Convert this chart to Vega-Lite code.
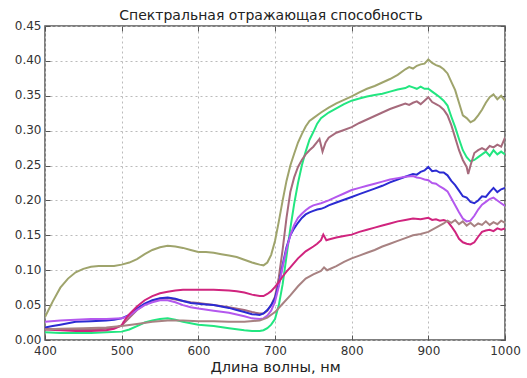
{
  "$schema": "https://vega.github.io/schema/vega-lite/v6.json",
  "width": 460,
  "height": 314,
  "autosize": {"type": "none"},
  "padding": {"left": 45, "top": 26, "right": 22, "bottom": 38},
  "title": {"text": "Спектральная отражающая способность", "font": "DejaVu Sans", "fontSize": 14, "fontWeight": "normal", "color": "#222", "offset": -4, "dx": -4},
  "data": {"values": [
    {"s":"1","x":400,"y":0.033},{"s":"1","x":410,"y":0.055},{"s":"1","x":420,"y":0.075},{"s":"1","x":430,"y":0.088},{"s":"1","x":440,"y":0.097},{"s":"1","x":450,"y":0.102},{"s":"1","x":460,"y":0.105},{"s":"1","x":470,"y":0.106},{"s":"1","x":480,"y":0.106},{"s":"1","x":490,"y":0.106},{"s":"1","x":500,"y":0.108},{"s":"1","x":510,"y":0.111},{"s":"1","x":520,"y":0.116},{"s":"1","x":530,"y":0.123},{"s":"1","x":540,"y":0.129},{"s":"1","x":550,"y":0.133},{"s":"1","x":560,"y":0.135},{"s":"1","x":570,"y":0.134},{"s":"1","x":580,"y":0.132},{"s":"1","x":590,"y":0.129},{"s":"1","x":600,"y":0.126},{"s":"1","x":610,"y":0.126},{"s":"1","x":620,"y":0.125},{"s":"1","x":630,"y":0.123},{"s":"1","x":640,"y":0.121},{"s":"1","x":650,"y":0.119},{"s":"1","x":660,"y":0.115},{"s":"1","x":670,"y":0.111},{"s":"1","x":680,"y":0.108},{"s":"1","x":685,"y":0.107},{"s":"1","x":690,"y":0.111},{"s":"1","x":695,"y":0.122},{"s":"1","x":700,"y":0.142},{"s":"1","x":705,"y":0.17},{"s":"1","x":710,"y":0.2},{"s":"1","x":715,"y":0.228},{"s":"1","x":720,"y":0.25},{"s":"1","x":725,"y":0.267},{"s":"1","x":730,"y":0.283},{"s":"1","x":735,"y":0.295},{"s":"1","x":740,"y":0.306},{"s":"1","x":745,"y":0.314},{"s":"1","x":750,"y":0.318},{"s":"1","x":760,"y":0.326},{"s":"1","x":770,"y":0.333},{"s":"1","x":780,"y":0.339},{"s":"1","x":790,"y":0.344},{"s":"1","x":800,"y":0.349},{"s":"1","x":810,"y":0.355},{"s":"1","x":820,"y":0.36},{"s":"1","x":830,"y":0.364},{"s":"1","x":840,"y":0.369},{"s":"1","x":850,"y":0.374},{"s":"1","x":860,"y":0.38},{"s":"1","x":870,"y":0.388},{"s":"1","x":875,"y":0.391},{"s":"1","x":880,"y":0.389},{"s":"1","x":885,"y":0.393},{"s":"1","x":890,"y":0.395},{"s":"1","x":895,"y":0.396},{"s":"1","x":900,"y":0.402},{"s":"1","x":905,"y":0.397},{"s":"1","x":910,"y":0.394},{"s":"1","x":915,"y":0.392},{"s":"1","x":920,"y":0.388},{"s":"1","x":925,"y":0.382},{"s":"1","x":930,"y":0.37},{"s":"1","x":935,"y":0.358},{"s":"1","x":940,"y":0.34},{"s":"1","x":945,"y":0.322},{"s":"1","x":950,"y":0.318},{"s":"1","x":955,"y":0.312},{"s":"1","x":960,"y":0.315},{"s":"1","x":965,"y":0.322},{"s":"1","x":970,"y":0.33},{"s":"1","x":975,"y":0.34},{"s":"1","x":980,"y":0.348},{"s":"1","x":985,"y":0.352},{"s":"1","x":990,"y":0.345},{"s":"1","x":995,"y":0.35},{"s":"1","x":1000,"y":0.343},

    {"s":"2","x":400,"y":0.011},{"s":"2","x":420,"y":0.01},{"s":"2","x":440,"y":0.01},{"s":"2","x":460,"y":0.01},{"s":"2","x":480,"y":0.011},{"s":"2","x":500,"y":0.012},{"s":"2","x":510,"y":0.015},{"s":"2","x":520,"y":0.02},{"s":"2","x":530,"y":0.025},{"s":"2","x":540,"y":0.028},{"s":"2","x":550,"y":0.03},{"s":"2","x":560,"y":0.031},{"s":"2","x":570,"y":0.029},{"s":"2","x":580,"y":0.026},{"s":"2","x":590,"y":0.024},{"s":"2","x":600,"y":0.022},{"s":"2","x":620,"y":0.02},{"s":"2","x":640,"y":0.017},{"s":"2","x":660,"y":0.014},{"s":"2","x":670,"y":0.013},{"s":"2","x":680,"y":0.013},{"s":"2","x":685,"y":0.014},{"s":"2","x":690,"y":0.017},{"s":"2","x":695,"y":0.022},{"s":"2","x":700,"y":0.03},{"s":"2","x":705,"y":0.05},{"s":"2","x":710,"y":0.08},{"s":"2","x":715,"y":0.12},{"s":"2","x":720,"y":0.16},{"s":"2","x":725,"y":0.195},{"s":"2","x":730,"y":0.225},{"s":"2","x":735,"y":0.25},{"s":"2","x":740,"y":0.27},{"s":"2","x":745,"y":0.287},{"s":"2","x":750,"y":0.298},{"s":"2","x":755,"y":0.31},{"s":"2","x":760,"y":0.318},{"s":"2","x":770,"y":0.326},{"s":"2","x":780,"y":0.332},{"s":"2","x":790,"y":0.338},{"s":"2","x":800,"y":0.343},{"s":"2","x":810,"y":0.346},{"s":"2","x":820,"y":0.349},{"s":"2","x":830,"y":0.351},{"s":"2","x":840,"y":0.353},{"s":"2","x":850,"y":0.356},{"s":"2","x":860,"y":0.359},{"s":"2","x":870,"y":0.361},{"s":"2","x":875,"y":0.364},{"s":"2","x":880,"y":0.362},{"s":"2","x":885,"y":0.36},{"s":"2","x":890,"y":0.363},{"s":"2","x":895,"y":0.36},{"s":"2","x":900,"y":0.36},{"s":"2","x":905,"y":0.356},{"s":"2","x":910,"y":0.352},{"s":"2","x":915,"y":0.348},{"s":"2","x":920,"y":0.343},{"s":"2","x":925,"y":0.336},{"s":"2","x":930,"y":0.32},{"s":"2","x":935,"y":0.305},{"s":"2","x":940,"y":0.288},{"s":"2","x":945,"y":0.272},{"s":"2","x":950,"y":0.262},{"s":"2","x":955,"y":0.256},{"s":"2","x":960,"y":0.258},{"s":"2","x":965,"y":0.262},{"s":"2","x":970,"y":0.266},{"s":"2","x":975,"y":0.27},{"s":"2","x":980,"y":0.264},{"s":"2","x":985,"y":0.272},{"s":"2","x":990,"y":0.266},{"s":"2","x":995,"y":0.27},{"s":"2","x":1000,"y":0.266},

    {"s":"3","x":400,"y":0.016},{"s":"3","x":420,"y":0.015},{"s":"3","x":440,"y":0.015},{"s":"3","x":460,"y":0.015},{"s":"3","x":480,"y":0.016},{"s":"3","x":490,"y":0.017},{"s":"3","x":500,"y":0.021},{"s":"3","x":510,"y":0.032},{"s":"3","x":520,"y":0.043},{"s":"3","x":530,"y":0.051},{"s":"3","x":540,"y":0.056},{"s":"3","x":550,"y":0.059},{"s":"3","x":560,"y":0.06},{"s":"3","x":570,"y":0.058},{"s":"3","x":580,"y":0.056},{"s":"3","x":590,"y":0.054},{"s":"3","x":600,"y":0.053},{"s":"3","x":620,"y":0.05},{"s":"3","x":640,"y":0.047},{"s":"3","x":660,"y":0.043},{"s":"3","x":670,"y":0.04},{"s":"3","x":680,"y":0.038},{"s":"3","x":685,"y":0.038},{"s":"3","x":690,"y":0.042},{"s":"3","x":695,"y":0.05},{"s":"3","x":700,"y":0.062},{"s":"3","x":705,"y":0.09},{"s":"3","x":710,"y":0.13},{"s":"3","x":715,"y":0.175},{"s":"3","x":720,"y":0.212},{"s":"3","x":725,"y":0.233},{"s":"3","x":730,"y":0.248},{"s":"3","x":735,"y":0.258},{"s":"3","x":740,"y":0.266},{"s":"3","x":745,"y":0.272},{"s":"3","x":750,"y":0.277},{"s":"3","x":755,"y":0.284},{"s":"3","x":758,"y":0.288},{"s":"3","x":762,"y":0.27},{"s":"3","x":766,"y":0.283},{"s":"3","x":770,"y":0.29},{"s":"3","x":780,"y":0.297},{"s":"3","x":790,"y":0.301},{"s":"3","x":800,"y":0.305},{"s":"3","x":810,"y":0.311},{"s":"3","x":820,"y":0.316},{"s":"3","x":830,"y":0.321},{"s":"3","x":840,"y":0.326},{"s":"3","x":850,"y":0.331},{"s":"3","x":860,"y":0.335},{"s":"3","x":870,"y":0.339},{"s":"3","x":875,"y":0.337},{"s":"3","x":880,"y":0.34},{"s":"3","x":885,"y":0.342},{"s":"3","x":890,"y":0.338},{"s":"3","x":895,"y":0.343},{"s":"3","x":900,"y":0.348},{"s":"3","x":905,"y":0.341},{"s":"3","x":910,"y":0.338},{"s":"3","x":915,"y":0.335},{"s":"3","x":920,"y":0.33},{"s":"3","x":925,"y":0.322},{"s":"3","x":930,"y":0.308},{"s":"3","x":935,"y":0.29},{"s":"3","x":940,"y":0.272},{"s":"3","x":945,"y":0.258},{"s":"3","x":950,"y":0.248},{"s":"3","x":952,"y":0.238},{"s":"3","x":955,"y":0.25},{"s":"3","x":960,"y":0.268},{"s":"3","x":965,"y":0.272},{"s":"3","x":970,"y":0.275},{"s":"3","x":975,"y":0.272},{"s":"3","x":980,"y":0.278},{"s":"3","x":985,"y":0.276},{"s":"3","x":990,"y":0.28},{"s":"3","x":995,"y":0.277},{"s":"3","x":1000,"y":0.29},

    {"s":"4","x":400,"y":0.018},{"s":"4","x":410,"y":0.02},{"s":"4","x":420,"y":0.022},{"s":"4","x":440,"y":0.026},{"s":"4","x":460,"y":0.027},{"s":"4","x":480,"y":0.028},{"s":"4","x":490,"y":0.029},{"s":"4","x":500,"y":0.031},{"s":"4","x":510,"y":0.036},{"s":"4","x":520,"y":0.045},{"s":"4","x":530,"y":0.052},{"s":"4","x":540,"y":0.057},{"s":"4","x":550,"y":0.06},{"s":"4","x":560,"y":0.061},{"s":"4","x":570,"y":0.059},{"s":"4","x":580,"y":0.056},{"s":"4","x":590,"y":0.053},{"s":"4","x":600,"y":0.052},{"s":"4","x":610,"y":0.051},{"s":"4","x":620,"y":0.05},{"s":"4","x":630,"y":0.048},{"s":"4","x":640,"y":0.046},{"s":"4","x":650,"y":0.043},{"s":"4","x":660,"y":0.04},{"s":"4","x":670,"y":0.037},{"s":"4","x":680,"y":0.036},{"s":"4","x":685,"y":0.038},{"s":"4","x":690,"y":0.043},{"s":"4","x":695,"y":0.05},{"s":"4","x":700,"y":0.06},{"s":"4","x":705,"y":0.08},{"s":"4","x":710,"y":0.108},{"s":"4","x":715,"y":0.133},{"s":"4","x":720,"y":0.15},{"s":"4","x":725,"y":0.16},{"s":"4","x":730,"y":0.168},{"s":"4","x":735,"y":0.175},{"s":"4","x":740,"y":0.18},{"s":"4","x":745,"y":0.183},{"s":"4","x":750,"y":0.185},{"s":"4","x":755,"y":0.187},{"s":"4","x":760,"y":0.188},{"s":"4","x":765,"y":0.19},{"s":"4","x":770,"y":0.193},{"s":"4","x":780,"y":0.197},{"s":"4","x":790,"y":0.201},{"s":"4","x":800,"y":0.205},{"s":"4","x":810,"y":0.209},{"s":"4","x":820,"y":0.213},{"s":"4","x":830,"y":0.217},{"s":"4","x":840,"y":0.221},{"s":"4","x":850,"y":0.226},{"s":"4","x":860,"y":0.23},{"s":"4","x":870,"y":0.234},{"s":"4","x":880,"y":0.238},{"s":"4","x":885,"y":0.237},{"s":"4","x":890,"y":0.241},{"s":"4","x":895,"y":0.243},{"s":"4","x":900,"y":0.248},{"s":"4","x":905,"y":0.242},{"s":"4","x":910,"y":0.243},{"s":"4","x":915,"y":0.24},{"s":"4","x":920,"y":0.24},{"s":"4","x":925,"y":0.236},{"s":"4","x":930,"y":0.228},{"s":"4","x":935,"y":0.222},{"s":"4","x":940,"y":0.214},{"s":"4","x":945,"y":0.206},{"s":"4","x":950,"y":0.204},{"s":"4","x":955,"y":0.198},{"s":"4","x":960,"y":0.196},{"s":"4","x":965,"y":0.2},{"s":"4","x":970,"y":0.206},{"s":"4","x":975,"y":0.205},{"s":"4","x":980,"y":0.212},{"s":"4","x":985,"y":0.218},{"s":"4","x":990,"y":0.212},{"s":"4","x":995,"y":0.216},{"s":"4","x":1000,"y":0.218},

    {"s":"5","x":400,"y":0.026},{"s":"5","x":420,"y":0.028},{"s":"5","x":440,"y":0.029},{"s":"5","x":460,"y":0.03},{"s":"5","x":480,"y":0.03},{"s":"5","x":500,"y":0.031},{"s":"5","x":510,"y":0.035},{"s":"5","x":520,"y":0.043},{"s":"5","x":530,"y":0.05},{"s":"5","x":540,"y":0.054},{"s":"5","x":550,"y":0.057},{"s":"5","x":560,"y":0.057},{"s":"5","x":570,"y":0.054},{"s":"5","x":580,"y":0.05},{"s":"5","x":590,"y":0.047},{"s":"5","x":600,"y":0.045},{"s":"5","x":620,"y":0.042},{"s":"5","x":640,"y":0.039},{"s":"5","x":660,"y":0.034},{"s":"5","x":670,"y":0.031},{"s":"5","x":680,"y":0.03},{"s":"5","x":685,"y":0.031},{"s":"5","x":690,"y":0.035},{"s":"5","x":695,"y":0.042},{"s":"5","x":700,"y":0.055},{"s":"5","x":705,"y":0.077},{"s":"5","x":710,"y":0.105},{"s":"5","x":715,"y":0.13},{"s":"5","x":720,"y":0.15},{"s":"5","x":725,"y":0.165},{"s":"5","x":730,"y":0.175},{"s":"5","x":735,"y":0.181},{"s":"5","x":740,"y":0.186},{"s":"5","x":745,"y":0.19},{"s":"5","x":750,"y":0.193},{"s":"5","x":760,"y":0.196},{"s":"5","x":770,"y":0.2},{"s":"5","x":780,"y":0.205},{"s":"5","x":790,"y":0.21},{"s":"5","x":800,"y":0.215},{"s":"5","x":810,"y":0.218},{"s":"5","x":820,"y":0.221},{"s":"5","x":830,"y":0.224},{"s":"5","x":840,"y":0.227},{"s":"5","x":850,"y":0.23},{"s":"5","x":860,"y":0.232},{"s":"5","x":870,"y":0.234},{"s":"5","x":880,"y":0.235},{"s":"5","x":885,"y":0.233},{"s":"5","x":890,"y":0.232},{"s":"5","x":895,"y":0.23},{"s":"5","x":900,"y":0.229},{"s":"5","x":905,"y":0.225},{"s":"5","x":910,"y":0.224},{"s":"5","x":915,"y":0.22},{"s":"5","x":920,"y":0.217},{"s":"5","x":925,"y":0.213},{"s":"5","x":930,"y":0.203},{"s":"5","x":935,"y":0.193},{"s":"5","x":940,"y":0.183},{"s":"5","x":945,"y":0.174},{"s":"5","x":950,"y":0.17},{"s":"5","x":955,"y":0.171},{"s":"5","x":960,"y":0.178},{"s":"5","x":965,"y":0.187},{"s":"5","x":970,"y":0.194},{"s":"5","x":975,"y":0.198},{"s":"5","x":980,"y":0.202},{"s":"5","x":985,"y":0.204},{"s":"5","x":990,"y":0.2},{"s":"5","x":995,"y":0.196},{"s":"5","x":1000,"y":0.192},

    {"s":"6","x":400,"y":0.015},{"s":"6","x":420,"y":0.014},{"s":"6","x":440,"y":0.013},{"s":"6","x":460,"y":0.013},{"s":"6","x":480,"y":0.014},{"s":"6","x":490,"y":0.016},{"s":"6","x":500,"y":0.021},{"s":"6","x":505,"y":0.03},{"s":"6","x":510,"y":0.037},{"s":"6","x":520,"y":0.048},{"s":"6","x":530,"y":0.057},{"s":"6","x":540,"y":0.063},{"s":"6","x":550,"y":0.067},{"s":"6","x":560,"y":0.069},{"s":"6","x":570,"y":0.071},{"s":"6","x":580,"y":0.072},{"s":"6","x":600,"y":0.072},{"s":"6","x":620,"y":0.072},{"s":"6","x":640,"y":0.071},{"s":"6","x":650,"y":0.07},{"s":"6","x":660,"y":0.068},{"s":"6","x":670,"y":0.065},{"s":"6","x":680,"y":0.063},{"s":"6","x":685,"y":0.063},{"s":"6","x":690,"y":0.066},{"s":"6","x":695,"y":0.07},{"s":"6","x":700,"y":0.076},{"s":"6","x":705,"y":0.083},{"s":"6","x":710,"y":0.091},{"s":"6","x":715,"y":0.098},{"s":"6","x":720,"y":0.104},{"s":"6","x":730,"y":0.117},{"s":"6","x":740,"y":0.127},{"s":"6","x":750,"y":0.134},{"s":"6","x":755,"y":0.138},{"s":"6","x":760,"y":0.143},{"s":"6","x":763,"y":0.151},{"s":"6","x":767,"y":0.143},{"s":"6","x":770,"y":0.144},{"s":"6","x":780,"y":0.147},{"s":"6","x":790,"y":0.149},{"s":"6","x":800,"y":0.151},{"s":"6","x":810,"y":0.155},{"s":"6","x":820,"y":0.158},{"s":"6","x":830,"y":0.161},{"s":"6","x":840,"y":0.164},{"s":"6","x":850,"y":0.167},{"s":"6","x":860,"y":0.17},{"s":"6","x":870,"y":0.172},{"s":"6","x":880,"y":0.174},{"s":"6","x":890,"y":0.173},{"s":"6","x":900,"y":0.175},{"s":"6","x":905,"y":0.172},{"s":"6","x":910,"y":0.173},{"s":"6","x":915,"y":0.171},{"s":"6","x":920,"y":0.172},{"s":"6","x":925,"y":0.17},{"s":"6","x":930,"y":0.163},{"s":"6","x":935,"y":0.155},{"s":"6","x":940,"y":0.145},{"s":"6","x":945,"y":0.14},{"s":"6","x":950,"y":0.138},{"s":"6","x":955,"y":0.137},{"s":"6","x":960,"y":0.14},{"s":"6","x":965,"y":0.148},{"s":"6","x":970,"y":0.155},{"s":"6","x":975,"y":0.157},{"s":"6","x":980,"y":0.158},{"s":"6","x":985,"y":0.156},{"s":"6","x":990,"y":0.16},{"s":"6","x":995,"y":0.158},{"s":"6","x":1000,"y":0.16},

    {"s":"7","x":400,"y":0.015},{"s":"7","x":420,"y":0.016},{"s":"7","x":450,"y":0.017},{"s":"7","x":480,"y":0.018},{"s":"7","x":500,"y":0.02},{"s":"7","x":520,"y":0.023},{"s":"7","x":540,"y":0.026},{"s":"7","x":560,"y":0.028},{"s":"7","x":580,"y":0.028},{"s":"7","x":600,"y":0.027},{"s":"7","x":620,"y":0.027},{"s":"7","x":640,"y":0.026},{"s":"7","x":660,"y":0.026},{"s":"7","x":680,"y":0.028},{"s":"7","x":690,"y":0.032},{"s":"7","x":700,"y":0.04},{"s":"7","x":710,"y":0.052},{"s":"7","x":720,"y":0.064},{"s":"7","x":730,"y":0.077},{"s":"7","x":740,"y":0.088},{"s":"7","x":750,"y":0.094},{"s":"7","x":760,"y":0.099},{"s":"7","x":764,"y":0.104},{"s":"7","x":768,"y":0.1},{"s":"7","x":780,"y":0.106},{"s":"7","x":790,"y":0.112},{"s":"7","x":800,"y":0.117},{"s":"7","x":810,"y":0.121},{"s":"7","x":820,"y":0.125},{"s":"7","x":830,"y":0.129},{"s":"7","x":840,"y":0.134},{"s":"7","x":850,"y":0.138},{"s":"7","x":860,"y":0.142},{"s":"7","x":870,"y":0.146},{"s":"7","x":880,"y":0.15},{"s":"7","x":890,"y":0.152},{"s":"7","x":900,"y":0.155},{"s":"7","x":910,"y":0.161},{"s":"7","x":920,"y":0.167},{"s":"7","x":925,"y":0.171},{"s":"7","x":930,"y":0.168},{"s":"7","x":935,"y":0.172},{"s":"7","x":940,"y":0.166},{"s":"7","x":945,"y":0.17},{"s":"7","x":950,"y":0.164},{"s":"7","x":955,"y":0.168},{"s":"7","x":960,"y":0.163},{"s":"7","x":965,"y":0.167},{"s":"7","x":970,"y":0.165},{"s":"7","x":975,"y":0.17},{"s":"7","x":980,"y":0.165},{"s":"7","x":985,"y":0.169},{"s":"7","x":990,"y":0.166},{"s":"7","x":995,"y":0.171},{"s":"7","x":1000,"y":0.168}
  ]},
  "layer": [
    {
      "mark": {"type": "line", "strokeWidth": 2, "clip": true},
      "encoding": {
        "x": {"field": "x", "type": "quantitative", "scale": {"domain": [400, 1000], "nice": false, "zero": false},
          "axis": {"title": "Длина волны, нм", "values": [400, 500, 600, 700, 800, 900, 1000], "format": "d", "labelFlush": false, "labelOverlap": false, "labelPadding": 10, "titleFontSize": 14.5, "titlePadding": 4}},
        "y": {"field": "y", "type": "quantitative", "scale": {"domain": [0, 0.45], "nice": false},
          "axis": {"title": null, "values": [0, 0.05, 0.1, 0.15, 0.2, 0.25, 0.3, 0.35, 0.4, 0.45], "format": ".2f", "labelOverlap": false, "labelFlush": false, "labelOffset": -1}},
        "color": {"field": "s", "type": "nominal", "legend": null,
          "scale": {"domain": ["1","2","3","4","5","6","7"], "range": ["#9fa46c", "#22e680", "#a66a7c", "#2b2bd2", "#b458ee", "#d0247e", "#a88282"]}},
        "order": {"field": "s"}
      }
    },
    {
      "mark": {"type": "line", "opacity": 0},
      "encoding": {
        "x": {"field": "x", "type": "quantitative",
          "axis": {"orient": "top", "title": null, "labels": false, "grid": false, "values": [400, 500, 600, 700, 800, 900, 1000]}},
        "y": {"field": "y", "type": "quantitative",
          "axis": {"orient": "right", "title": null, "labels": false, "grid": false, "values": [0, 0.05, 0.1, 0.15, 0.2, 0.25, 0.3, 0.35, 0.4, 0.45]}},
        "detail": {"field": "s"}
      }
    }
  ],
  "resolve": {"axis": {"x": "independent", "y": "independent"}},
  "config": {
    "view": {"stroke": "#555", "strokeWidth": 1.5},
    "axis": {"grid": true, "gridDash": [2, 3], "gridColor": "#bbbbbb", "gridWidth": 1, "domain": false,
      "ticks": true, "tickColor": "#555", "tickSize": -5, "labelPadding": 9,
      "labelColor": "#333", "labelFont": "DejaVu Sans", "labelFontSize": 12,
      "titleFont": "DejaVu Sans", "titleColor": "#222", "titleFontWeight": "normal"}
  }
}
